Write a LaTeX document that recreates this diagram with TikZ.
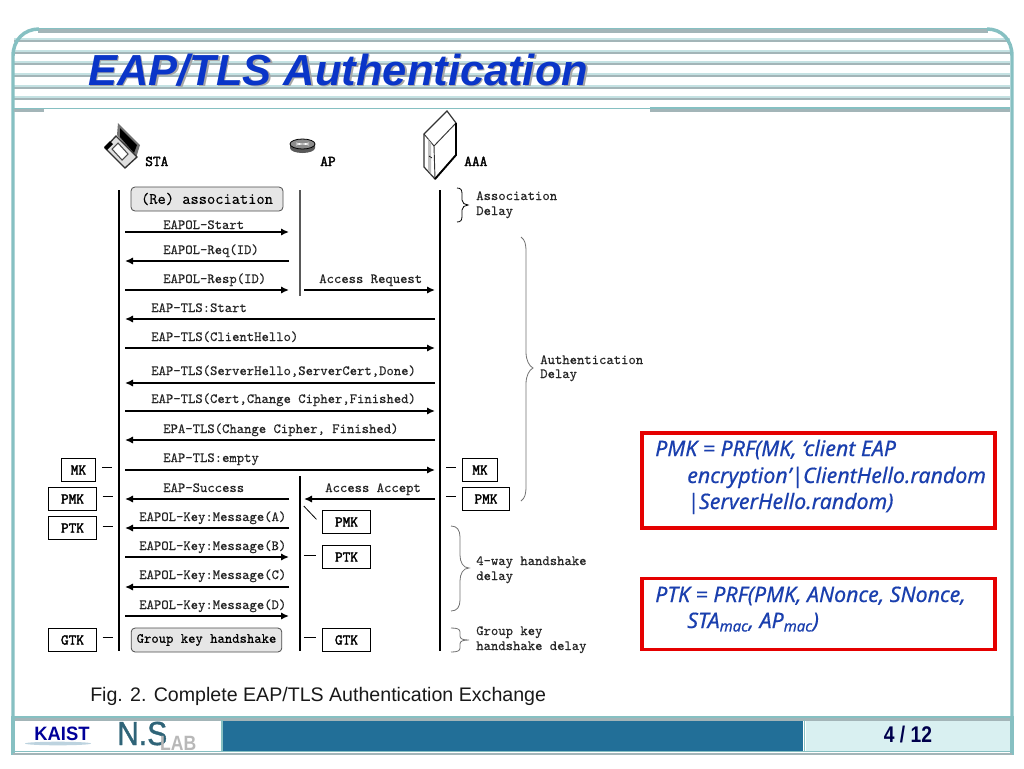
\documentclass[tikz,border=0pt]{standalone}
\usepackage{fontspec}
\setmainfont{Liberation Sans}
\newfontfamily\formulafont[FakeBold=0.5]{Noto Sans}
\newfontfamily\labmono[FakeBold=0.3]{Latin Modern Mono}
\newfontfamily\boldmono[FakeBold=2.2]{Latin Modern Mono}
\newfontfamily\nsfont[FakeBold=1.2]{Liberation Sans}
\usetikzlibrary{arrows.meta}
\definecolor{frameteal}{HTML}{86C0C2}
\definecolor{framegrey}{HTML}{A3B5B8}
\definecolor{stripelight}{HTML}{C5E2E3}
\definecolor{titleblue}{HTML}{0A35C8}
\definecolor{formulablue}{HTML}{1A3FAE}
\definecolor{footblue}{HTML}{226F98}
\definecolor{footlight}{HTML}{D9F0F1}
\definecolor{boxgrey}{HTML}{E6E6E6}
\definecolor{nsslate}{HTML}{2F6478}
\tikzset{
  msg/.style={line width=1.3pt,-{Latex[length=6pt,width=5.5pt]}},
  life/.style={line width=1.5pt,black},
  lab/.style={anchor=base west,inner sep=0pt,font=\labmono\fontsize{10.5}{12}\selectfont,text=black!85},
  head/.style={anchor=base west,inner sep=0pt,font=\boldmono\fontsize{11.2}{12}\selectfont},
  keybox/.style={draw=black,line width=0.6pt,fill=white,inner sep=0pt,minimum height=17.5pt,font=\boldmono\fontsize{11.2}{12}\selectfont},
  wide/.style={keybox,minimum width=35.5pt},
  narrow/.style={keybox,minimum width=26pt},
  phase/.style={draw=black!70,rounded corners=3pt,fill=boxgrey,inner sep=0pt,minimum height=18pt,line width=0.6pt},
  ticks/.style={line width=0.6pt,black},
  bracket/.style={line width=0.6pt,black!55},
  redbox/.style={draw=red!90!black,line width=2.6pt,fill=white,inner sep=0pt},
  formula/.style={anchor=base west,inner sep=0pt,text=formulablue,font=\formulafont\itshape\fontsize{16}{18}\selectfont},
  stripe/.style={stripelight,line width=1.6pt},
  stripeb/.style={framegrey,line width=1.4pt}
}
\begin{document}
\begin{tikzpicture}[x=0.75pt,y=-0.75pt]
\useasboundingbox (0,0) rectangle (1024,768);
\fill[white] (0,0) rectangle (1024,768);

% header stripes
\foreach \yy in {40,52,63,75,87,98}{
  \draw[stripe] (14,\yy-1) -- (1010,\yy-1);
  \draw[stripeb] (14,\yy+1) -- (1010,\yy+1);
}
\draw[framegrey,line width=2.6pt] (38,31) -- (988,31);
\draw[frameteal,line width=1.2pt] (38,28.5) -- (988,28.5);
% frame
\draw[frameteal,line width=2.6pt] (13,716) -- (13,56) .. controls (13,40) and (24,29) .. (39,29);
\draw[frameteal,line width=2.6pt] (987,29) .. controls (1002,29) and (1012,40) .. (1012,56) -- (1012,716);
\draw[framegrey,line width=2.4pt] (14,110) -- (44,110);
\draw[frameteal,line width=1pt] (14,108.5) -- (650,108.5);
\draw[frameteal,line width=1.4pt] (650,108) -- (1010,108);
\draw[framegrey,line width=2.2pt] (650,110.5) -- (1010,110.5);

% title
\node[anchor=base west,inner sep=0pt,text=black!35,font=\bfseries\itshape\fontsize{32.6}{36}\selectfont] (titleshadow) at (89.5,86.5) {EAP/TLS Authentication};
\node[anchor=base west,inner sep=0pt,text=titleblue,font=\bfseries\itshape\fontsize{32.6}{36}\selectfont] (title) at (88,85) {EAP/TLS Authentication};

% laptop icon
\fill[black!55] (117,135) -- (118,123) -- (140,145) -- (136,158) -- cycle;
\fill[black] (120,128) -- (137,145) -- (134,153) -- (120,137) -- cycle;
\filldraw[fill=black!12,draw=black!80,line width=1pt] (105,148) -- (116,136) -- (137,157) -- (125,168) -- cycle;
\fill[black] (104,147) -- (110,141) -- (113,144) -- (107,150) -- cycle;
\filldraw[fill=white,draw=black!70,line width=0.8pt] (112,149) -- (118,143) -- (128,154) -- (122,160) -- cycle;
% router icon
\fill[black!65] (290,144) -- (290,148) arc[start angle=180,end angle=360,x radius=12.5,y radius=-5] -- (315,144) -- cycle;
\filldraw[fill=black!45,draw=black,line width=0.6pt] (302.5,144) ellipse[x radius=12.5,y radius=5];
\draw[white,line width=0.5pt] (296,143) -- (309,145) (296,145) -- (309,143);
% server icon
\filldraw[fill=white,draw=black!80,line width=0.9pt] (424,134) -- (447,111) -- (456,123) -- (456,155) -- (435,179) -- (424,167) -- cycle;
\draw[black!80,line width=0.7pt] (424,134) -- (434,146) -- (456,123);
\draw[black!80,line width=0.7pt] (434,146) -- (435,179);
\draw[black,line width=1.4pt] (456,123) -- (456,155) -- (435,179);
\fill[black!25] (428,139) -- (431,143) -- (431,174) -- (428,170) -- cycle;
\draw[black,line width=0.5pt] (429,156) -- (432,158);

% headers
\node[head] (sta) at (145,166) {STA};
\node[head] (ap) at (320,166) {AP};
\node[head] (aaa) at (464,166) {AAA};

% lifelines
\coordinate (staTop) at (119,190); \coordinate (staEnd) at (119,651);
\coordinate (apTop) at (300,190); \coordinate (apMid) at (300,296);
\coordinate (apLow) at (300,476); \coordinate (apEnd) at (300,651);
\coordinate (aaaTop) at (440,190); \coordinate (aaaEnd) at (440,651);
\draw[life] (staTop) -- (staEnd);
\draw[life,black!65,line width=1.2pt] (apTop) -- (apMid);
\draw[life] (apLow) -- (apEnd);
\draw[life] (aaaTop) -- (aaaEnd);

% phase boxes
\node[phase,minimum width=114pt,font=\labmono\fontsize{12}{14}\selectfont] (reassoc) at (207,199) {(Re) association};
\node[phase,minimum width=113pt,font=\labmono\fontsize{10.5}{12}\selectfont] (gkh) at (206.5,640) {Group key handshake};

% message endpoints
\foreach \nm/\yy in {a/232,b/261,c/290,d/319,e/348,f/383,g/411,h/440,i/470,j/499,k/528,l/557,m/587,n/616}{
  \coordinate (s\nm) at (125,\yy);
  \coordinate (p\nm) at (289,\yy);
  \coordinate (q\nm) at (304,\yy);
  \coordinate (r\nm) at (435,\yy);
}
\draw[msg] (sa) -- (pa);
\draw[msg] (pb) -- (sb);
\draw[msg] (sc) -- (pc);
\draw[msg] (qc) -- (rc);
\draw[msg] (rd) -- (sd);
\draw[msg] (se) -- (re);
\draw[msg] (rf) -- (sf);
\draw[msg] (sg) -- (rg);
\draw[msg] (rh) -- (sh);
\draw[msg] (si) -- (ri);
\draw[msg] (pj) -- (sj);
\draw[msg] (rj) -- (qj);
\draw[msg] (pk) -- (sk);
\draw[msg] (sl) -- (pl);
\draw[msg] (pm) -- (sm);
\draw[msg] (sn) -- (pn);

% message labels
\node[lab] (l1) at (163,229) {EAPOL-Start};
\node[lab] (l2) at (163,254) {EAPOL-Req(ID)};
\node[lab] (l3) at (163,283) {EAPOL-Resp(ID)};
\node[lab] (l4) at (319,283) {Access Request};
\node[lab] (l5) at (151,312) {EAP-TLS:Start};
\node[lab] (l6) at (151,341) {EAP-TLS(ClientHello)};
\node[lab] (l7) at (151,375) {EAP-TLS(ServerHello,ServerCert,Done)};
\node[lab] (l8) at (151,403) {EAP-TLS(Cert,Change Cipher,Finished)};
\node[lab] (l9) at (163,433) {EPA-TLS(Change Cipher, Finished)};
\node[lab] (l10) at (163,462) {EAP-TLS:empty};
\node[lab] (l11) at (163,492) {EAP-Success};
\node[lab] (l12) at (325,492) {Access Accept};
\node[lab] (l13) at (139,521) {EAPOL-Key:Message(A)};
\node[lab] (l14) at (139,550) {EAPOL-Key:Message(B)};
\node[lab] (l15) at (139,579) {EAPOL-Key:Message(C)};
\node[lab] (l16) at (139,609) {EAPOL-Key:Message(D)};

% key boxes
\node[narrow] (mkS) at (78.5,470) {MK};
\node[wide] (pmkS) at (72.5,499) {PMK};
\node[wide] (ptkS) at (72.5,528) {PTK};
\node[wide] (gtkS) at (72.5,640) {GTK};
\node[narrow] (mkA) at (480,470) {MK};
\node[wide] (pmkA) at (486,499) {PMK};
\node[wide] (pmkP) at (346.5,522) {PMK};
\node[wide] (ptkP) at (346.5,557) {PTK};
\node[wide] (gtkP) at (346.5,640) {GTK};

% ticks
\draw[ticks] ([xshift=4.5pt,yshift=2pt]mkS.east) -- ([xshift=12pt,yshift=2pt]mkS.east);
\draw[ticks] ([xshift=4.5pt,yshift=2pt]pmkS.east) -- ([xshift=12pt,yshift=2pt]pmkS.east);
\draw[ticks] ([xshift=4.5pt,yshift=1.5pt]ptkS.east) -- ([xshift=12pt,yshift=1.5pt]ptkS.east);
\draw[ticks] ([xshift=4.5pt,yshift=2pt]gtkS.east) -- ([xshift=12pt,yshift=2pt]gtkS.east);
\draw[ticks] ([xshift=-12pt,yshift=2pt]mkA.west) -- ([xshift=-4.5pt,yshift=2pt]mkA.west);
\draw[ticks] ([xshift=-12pt,yshift=2pt]pmkA.west) -- ([xshift=-4.5pt,yshift=2pt]pmkA.west);
\draw[ticks] ([xshift=-14pt,yshift=1.5pt]ptkP.west) -- ([xshift=-5pt,yshift=1.5pt]ptkP.west);
\draw[ticks] ([xshift=-14pt,yshift=2pt]gtkP.west) -- ([xshift=-5pt,yshift=2pt]gtkP.west);
\draw[ticks] ([xshift=-14pt,yshift=12pt]pmkP.west) -- ([xshift=-4.5pt,yshift=2pt]pmkP.west);

% braces
\draw[bracket,black] (457,188) .. controls (461,188) and (462,190) .. (462,194) -- (462,200) .. controls (462,203) and (465,205) .. (468,205) .. controls (465,205) and (462,207) .. (462,210) -- (462,216) .. controls (462,220) and (461,222) .. (457,222);
\draw[bracket] (521,237) .. controls (525,240) and (526,244) .. (526,252) -- (526,352) .. controls (526,360) and (529,366) .. (533,368) .. controls (529,370) and (526,376) .. (526,384) -- (526,486) .. controls (526,494) and (525,498) .. (521,501);
\draw[bracket] (451,526) .. controls (457,526) and (460,530) .. (460,537) -- (460,555) .. controls (460,562) and (463,568) .. (469,568) .. controls (463,568) and (460,574) .. (460,581) -- (460,600) .. controls (460,607) and (457,611) .. (451,611);
\draw[bracket] (451,628) .. controls (457,628) and (460,629) .. (460,632) -- (460,636) .. controls (460,639) and (463,640) .. (469,640) .. controls (463,640) and (460,641) .. (460,644) -- (460,648) .. controls (460,651) and (457,652) .. (451,652);

% brace labels
\node[lab] (d1) at (476,200) {Association};
\node[lab] (d2) at (476,215) {Delay};
\node[lab] (d3) at (540,364) {Authentication};
\node[lab] (d4) at (540,378) {Delay};
\node[lab] (d5) at (476,565) {4-way handshake};
\node[lab] (d6) at (476,580) {delay};
\node[lab] (d7) at (476,635) {Group key};
\node[lab] (d8) at (476,650) {handshake delay};

% formula boxes
\node[redbox,minimum width=265pt,minimum height=71pt] (pmkbox) at (818.5,480.5) {};
\node[redbox,minimum width=265pt,minimum height=53pt] (ptkbox) at (818.5,614) {};
\node[formula] (f1) at (655,456) {PMK = PRF(MK, ‘client EAP};
\node[formula] (f2) at (687,483) {encryption’|ClientHello.random};
\node[formula] (f3) at (687,509) {|ServerHello.random)};
\node[formula] (f4) at (655,602) {PTK = PRF(PMK, ANonce, SNonce,};
\node[formula] (f5) at (687,628) {STA\textsubscript{mac}, AP\textsubscript{mac})};

% caption
\node[anchor=base west,inner sep=0pt,font=\fontsize{14.7}{17}\selectfont,text=black!90] (caption) at (90,701) {Fig. 2. Complete EAP/TLS Authentication Exchange};

% footer
\fill[white] (14,720) rectangle (222,751);
\fill[footblue] (222,719) rectangle (803,752);
\fill[footlight] (806,720) rectangle (1010,751);
\draw[frameteal,line width=1.6pt] (13,717) -- (1012,717);
\draw[framegrey,line width=1.6pt] (13,719.5) -- (1012,719.5);
\draw[frameteal,line width=2.4pt] (13,716) -- (13,755);
\draw[frameteal,line width=2.4pt] (1012,716) -- (1012,755);
\draw[frameteal,line width=1.2pt] (804.5,720) -- (804.5,752);
\draw[frameteal,line width=1.2pt] (222,720) -- (222,752);
\draw[frameteal,line width=1.2pt] (13,751.5) -- (1012,751.5);
\draw[framegrey,line width=2.2pt] (13,754) -- (1012,754);
\fill[footblue!50!white,opacity=.6] (58,743.5) ellipse[x radius=33,y radius=1.8];
\node[inner sep=0pt,xscale=.95,text=blue!60!black,font=\bfseries\fontsize{14.5}{16}\selectfont] (kaist) at (62,734) {KAIST};
\node[anchor=base west,inner sep=0pt,xscale=.9,text=nsslate,font=\nsfont\fontsize{25}{28}\selectfont] (ns) at (117,745) {N.S};
\node[anchor=base west,inner sep=0pt,xscale=.85,text=black!28,font=\bfseries\fontsize{15.5}{18}\selectfont] (lab) at (160,750) {LAB};
\node[inner sep=0pt,xscale=.85,text=blue!30!black,font=\bfseries\fontsize{17}{19}\selectfont] (page) at (908,735) {4 / 12};
\end{tikzpicture}
\end{document}
